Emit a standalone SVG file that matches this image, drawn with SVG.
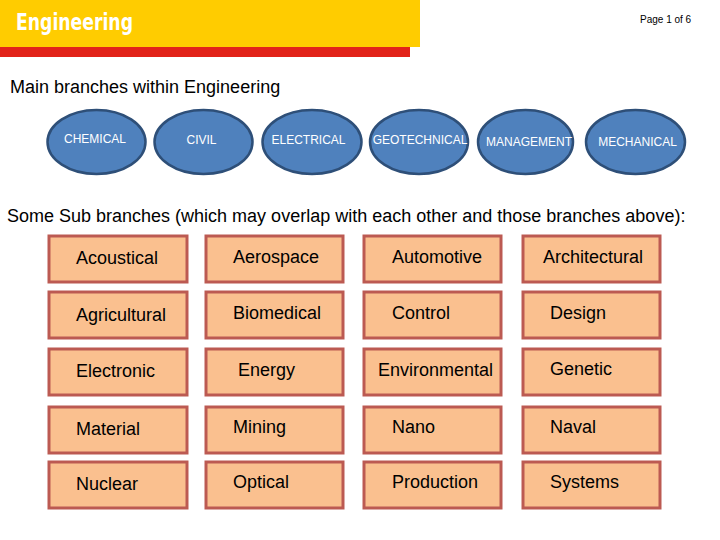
<svg xmlns="http://www.w3.org/2000/svg" width="720" height="540" viewBox="0 0 720 540">
<style>
.t{font-family:"Liberation Sans",Arial,sans-serif;fill:#000}
.main ellipse{fill:#4F81BD;stroke:#2E4F78;stroke-width:2.5}
.main text{font-family:"Liberation Sans",Arial,sans-serif;font-size:12px;fill:#fff;text-anchor:middle}
.sub rect{fill:#FAC08F;stroke:#BC5A52;stroke-width:3}
.sub text{font-family:"Liberation Sans",Arial,sans-serif;font-size:18px;fill:#000}
</style>
<rect x="0" y="0" width="720" height="540" fill="#fff"/>
<g id="header">
<rect x="0" y="0" width="420" height="47" fill="#FFCC00"/>
<rect x="0" y="47" width="410" height="10" fill="#E2231A"/>
<text x="16" y="30" font-family="'DejaVu Sans Condensed','DejaVu Sans',sans-serif" font-weight="bold" font-size="23" fill="#fff" textLength="117" lengthAdjust="spacingAndGlyphs">Engineering</text>
<text x="640" y="23" class="t" font-size="10">Page 1 of 6</text>
</g>
<text x="10" y="93" class="t" font-size="18">Main branches within Engineering</text>
<g class="main">
<g id="chemical"><ellipse cx="96.5" cy="142" rx="49" ry="32"/><text x="95" y="143">CHEMICAL</text></g>
<g id="civil"><ellipse cx="203.5" cy="142" rx="49" ry="32"/><text x="201.5" y="144">CIVIL</text></g>
<g id="electrical"><ellipse cx="312" cy="142" rx="49.5" ry="32"/><text x="308.5" y="144">ELECTRICAL</text></g>
<g id="geotechnical"><ellipse cx="419" cy="142" rx="49" ry="32"/><text x="420" y="144">GEOTECHNICAL</text></g>
<g id="management"><ellipse cx="525.5" cy="142" rx="47.5" ry="32"/><text x="529" y="146">MANAGEMENT</text></g>
<g id="mechanical"><ellipse cx="635.5" cy="142" rx="49.5" ry="32"/><text x="637.5" y="146">MECHANICAL</text></g>
</g>
<text x="7" y="222" class="t" font-size="18">Some Sub branches (which may overlap with each other and those branches above):</text>
<g class="sub">
<g id="acoustical"><rect x="49" y="236" width="138" height="46"/><text x="76" y="264">Acoustical</text></g>
<g id="aerospace"><rect x="206" y="236" width="137" height="46"/><text x="233" y="263">Aerospace</text></g>
<g id="automotive"><rect x="364" y="236" width="137" height="46"/><text x="392" y="263">Automotive</text></g>
<g id="architectural"><rect x="523" y="236" width="137" height="46"/><text x="543" y="263">Architectural</text></g>

<g id="agricultural"><rect x="49" y="292" width="138" height="46"/><text x="76" y="321">Agricultural</text></g>
<g id="biomedical"><rect x="206" y="292" width="137" height="46"/><text x="233" y="319">Biomedical</text></g>
<g id="control"><rect x="364" y="292" width="137" height="46"/><text x="392" y="319">Control</text></g>
<g id="design"><rect x="523" y="292" width="137" height="46"/><text x="550" y="319">Design</text></g>

<g id="electronic"><rect x="49" y="349" width="138" height="46"/><text x="76" y="377">Electronic</text></g>
<g id="energy"><rect x="206" y="349" width="137" height="46"/><text x="238" y="376">Energy</text></g>
<g id="environmental"><rect x="364" y="349" width="137" height="46"/><text x="378" y="376">Environmental</text></g>
<g id="genetic"><rect x="523" y="349" width="137" height="46"/><text x="550" y="375">Genetic</text></g>

<g id="material"><rect x="49" y="407" width="138" height="46"/><text x="76" y="435">Material</text></g>
<g id="mining"><rect x="206" y="407" width="137" height="46"/><text x="233" y="433">Mining</text></g>
<g id="nano"><rect x="364" y="407" width="137" height="46"/><text x="392" y="433">Nano</text></g>
<g id="naval"><rect x="523" y="407" width="137" height="46"/><text x="550" y="433">Naval</text></g>

<g id="nuclear"><rect x="49" y="462" width="138" height="46"/><text x="76" y="490">Nuclear</text></g>
<g id="optical"><rect x="206" y="462" width="137" height="46"/><text x="233" y="488">Optical</text></g>
<g id="production"><rect x="364" y="462" width="137" height="46"/><text x="392" y="488">Production</text></g>
<g id="systems"><rect x="523" y="462" width="137" height="46"/><text x="550" y="488">Systems</text></g>
</g>
<g id="connectors"/>
</svg>
